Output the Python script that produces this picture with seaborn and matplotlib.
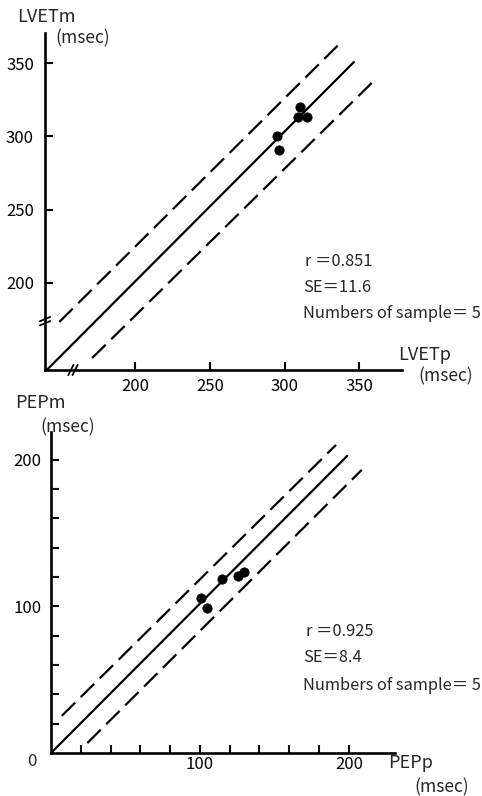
import matplotlib
matplotlib.use("Agg")
import matplotlib.pyplot as plt
import seaborn as sns
import pandas as pd

# LVET data (msec)
lvet_p = [310, 309, 315, 295, 296]
lvet_m = [320, 313, 313, 300, 291]
# regression line and +-2SE lines (end points)
lvet_line_x = [140.6, 346.3]
lvet_line_y = [140.6, 350.7]
lvet_up_x = [149, 335.4]
lvet_up_y = [173.4, 361.9]
lvet_lo_x = [171, 358.2]
lvet_lo_y = [148.8, 336.4]
lvet_ticks = [200, 250, 300, 350]

# PEP data (msec)
pep_p = [100.5, 104.5, 115, 125.9, 129.3]
pep_m = [106, 99.2, 118.8, 121, 123.3]
pep_line_x = [0, 198.9]
pep_line_y = [0, 202.7]
pep_up_x = [7.2, 191.4]
pep_up_y = [25.3, 210.2]
pep_lo_x = [24.4, 208.7]
pep_lo_y = [6.8, 193.2]
pep_minor = list(range(20, 201, 20))

stats_top = ["r \uff1d0.851", "SE\uff1d11.6", "Numbers of sample\uff1d 5"]
stats_bot = ["r \uff1d0.925", "SE\uff1d8.4", "Numbers of sample\uff1d 5"]

sns.set_theme(style="white")
plt.rcParams['font.family'] = ['Noto Sans CJK JP', 'DejaVu Sans']

W, H = 482, 796
fig = plt.figure(figsize=(W / 100, H / 100), dpi=100)
fig.patch.set_facecolor("white")

def px(x, y):
    return x / W, 1 - y / H

def style_axes(ax):
    for s in ["top", "right"]:
        ax.spines[s].set_visible(False)
    for s in ["left", "bottom"]:
        ax.spines[s].set_color("black")
        ax.spines[s].set_linewidth(1.9)
    ax.set_facecolor("white")
    ax.set_xlabel("")
    ax.set_ylabel("")

def draw_lines(ax, lx, ly, ux, uy, dx, dy):
    df = pd.DataFrame({"x": lx, "y": ly})
    sns.lineplot(data=df, x="x", y="y", ax=ax, color="black", lw=1.6)
    for xs, ys in [(ux, uy), (dx, dy)]:
        d = pd.DataFrame({"x": xs, "y": ys})
        sns.lineplot(data=d, x="x", y="y", ax=ax, color="black", lw=1.6,
                     dashes=False).lines[-1].set_dashes((8.5, 3.5))

# ---------- top: LVET ----------
ax1 = fig.add_axes([45 / W, 1 - 370 / H, (402 - 45) / W, (370 - 33) / H])
ax1.set_xlim(139.4, 378.5)
ax1.set_ylim(140.6, 370.5)
draw_lines(ax1, lvet_line_x, lvet_line_y, lvet_up_x, lvet_up_y, lvet_lo_x, lvet_lo_y)
sns.scatterplot(x=lvet_p, y=lvet_m, ax=ax1, color="black", s=45, edgecolor="black", zorder=5)
style_axes(ax1)
ax1.set_xticks(lvet_ticks)
ax1.set_yticks(lvet_ticks)
ax1.tick_params(axis="both", direction="in", length=6, width=1.5, labelsize=12,
                colors="black", left=True, bottom=True)
ax1.tick_params(axis="y", pad=8)
ax1.tick_params(axis="x", pad=6)

# axis breaks
x0, y0 = 139.4, 140.6
for off in [0, 2.8]:
    ax1.plot([155 + off, 158.5 + off], [y0 - 3.5, y0 + 3.5], color="black", lw=1.3, clip_on=False)
    ax1.plot([x0 - 3.5, x0 + 3.5], [171 + off, 174 + off], color="black", lw=1.3, clip_on=False)

# ---------- bottom: PEP ----------
ax2 = fig.add_axes([51 / W, 1 - 753 / H, (395 - 51) / W, (753 - 432) / H])
ax2.set_xlim(0, 231)
ax2.set_ylim(0, 219)
draw_lines(ax2, pep_line_x, pep_line_y, pep_up_x, pep_up_y, pep_lo_x, pep_lo_y)
sns.scatterplot(x=pep_p, y=pep_m, ax=ax2, color="black", s=45, edgecolor="black", zorder=5)
style_axes(ax2)
ax2.set_xticks(pep_minor)
ax2.set_xticklabels(["100" if v == 100 else "200" if v == 200 else "" for v in pep_minor])
ax2.set_yticks(pep_minor)
ax2.set_yticklabels(["100" if v == 100 else "200" if v == 200 else "" for v in pep_minor])
ax2.tick_params(axis="both", direction="in", length=6, width=1.5, labelsize=12,
                colors="black", left=True, bottom=True)
ax2.tick_params(axis="y", pad=7)
ax2.tick_params(axis="x", pad=2)

# ---------- texts ----------
fs_lab = 13
fs_unit = 12.5
fig.text(*px(17, 17), "LVETm", fontsize=fs_lab, va="center", ha="left")
fig.text(*px(55, 38), "(msec)", fontsize=fs_unit, va="center", ha="left")
fig.text(*px(398, 355), "LVETp", fontsize=fs_lab, va="center", ha="left")
fig.text(*px(418, 376), "(msec)", fontsize=fs_unit, va="center", ha="left")
fig.text(*px(15, 403), "PEPm", fontsize=fs_lab, va="center", ha="left")
fig.text(*px(40, 427), "(msec)", fontsize=fs_unit, va="center", ha="left")
fig.text(*px(388, 763), "PEPp", fontsize=fs_lab, va="center", ha="left")
fig.text(*px(414, 787), "(msec)", fontsize=fs_unit, va="center", ha="left")
fig.text(*px(32, 762), "0", fontsize=12, va="center", ha="center")

fs_st = 11.8
for i, (t, yy) in enumerate(zip(stats_top, [262, 288, 313])):
    fig.text(*px(303 + (2 if i == 0 else 0), yy), t, fontsize=fs_st, va="center", ha="left")
for i, (t, yy) in enumerate(zip(stats_bot, [632, 658, 685])):
    fig.text(*px(303 + (3 if i == 0 else 0), yy), t, fontsize=fs_st, va="center", ha="left")

fig.savefig("out.png", dpi=100, facecolor="white")
